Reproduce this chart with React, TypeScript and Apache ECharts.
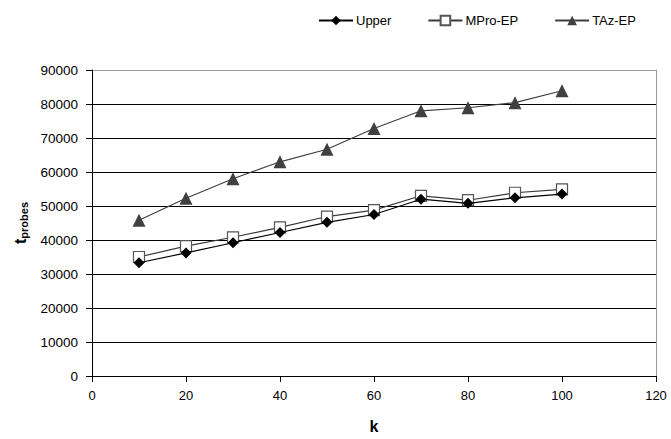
import React, { useEffect, useRef } from "react";
import * as echarts from "echarts";

const kValues = [10, 20, 30, 40, 50, 60, 70, 80, 90, 100];
const upper = [33300, 36200, 39200, 42200, 45200, 47500, 52000, 50800, 52400, 53500];
const mproEP = [35000, 38200, 40800, 43700, 46900, 48800, 53000, 51700, 53900, 54900];
const tazEP = [45800, 52300, 58000, 63000, 66700, 72800, 78000, 78900, 80400, 83900];
const seriesNames = ["Upper", "MPro-EP", "TAz-EP"];

const FONT = "'Liberation Sans', Arial, sans-serif";

export default function App() {
  const ref = useRef<HTMLDivElement>(null);
  useEffect(() => {
    const chart = echarts.init(ref.current!, null, { renderer: "svg" });
    const pairs = (vals: number[]) => kValues.map((k, i) => [k, vals[i]]);
    const splitColors = ["#000", "#000", "#000", "#000", "#000", "#000", "#000", "#000", "#000", "#999"];
    chart.setOption({
      animation: false,
      backgroundColor: "#fff",
      textStyle: { fontFamily: FONT },
      legend: {
        top: 9,
        left: 313,
        itemGap: 36,
        itemWidth: 34,
        itemHeight: 12,
        textStyle: { fontFamily: FONT, fontSize: 13, color: "#000", padding: [0, 0, 0, -2] },
        data: seriesNames,
      },
      grid: { left: 92, right: 15, top: 70, bottom: 61, containLabel: false },
      xAxis: {
        type: "value",
        min: 0,
        max: 120,
        interval: 20,
        name: "k",
        nameLocation: "middle",
        nameGap: 42,
        nameTextStyle: { fontFamily: FONT, fontSize: 16, fontWeight: "bold", color: "#000" },
        axisLine: { show: true, lineStyle: { color: "#000", width: 1 } },
        axisTick: { show: true, length: 6, lineStyle: { color: "#000" } },
        axisLabel: { fontFamily: FONT, fontSize: 13, color: "#000", margin: 13 },
        splitLine: { show: false },
      },
      yAxis: [
        {
          type: "value",
          min: 0,
          max: 90000,
          interval: 10000,
          name: "{t|t}{s|probes}",
          nameLocation: "middle",
          nameGap: 62,
          nameRotate: 90,
          nameTextStyle: {
            fontFamily: FONT,
            color: "#000",
            rich: {
              t: { fontFamily: FONT, fontSize: 16, fontWeight: "bold", color: "#000" },
              s: { fontFamily: FONT, fontSize: 11, fontWeight: "bold", color: "#000", verticalAlign: "bottom", padding: [7, 0, 0, 0] },
            },
          },
          axisLine: { show: true, lineStyle: { color: "#000", width: 1 } },
          axisTick: { show: true, length: 6, lineStyle: { color: "#000" } },
          axisLabel: {
            fontFamily: FONT,
            fontSize: 13.5,
            color: "#000",
            margin: 14,
            formatter: (v: number) => String(v),
          },
          splitLine: { show: true, lineStyle: { color: splitColors, width: 1 } },
        },
        {
          type: "value",
          position: "right",
          min: 0,
          max: 90000,
          interval: 10000,
          axisLine: { show: true, lineStyle: { color: "#999", width: 1 } },
          axisTick: { show: false },
          axisLabel: { show: false },
          splitLine: { show: false },
        },
      ],
      series: [
        {
          name: seriesNames[0],
          type: "line",
          data: pairs(upper),
          symbol: "diamond",
          symbolSize: 11,
          lineStyle: { color: "#000", width: 1.2 },
          itemStyle: { color: "#000" },
          z: 4,
        },
        {
          name: seriesNames[1],
          type: "line",
          data: pairs(mproEP),
          symbol: "rect",
          symbolSize: 11,
          showAllSymbol: true,
          lineStyle: { color: "#3a3a3a", width: 1.2 },
          itemStyle: { color: "#fff", borderColor: "#555", borderWidth: 1.2 },
          z: 3,
        },
        {
          name: seriesNames[2],
          type: "line",
          data: pairs(tazEP),
          symbol: "triangle",
          symbolSize: 13,
          lineStyle: { color: "#404040", width: 1.2 },
          itemStyle: { color: "#404040" },
          z: 2,
        },
      ],
    });
    return () => chart.dispose();
  }, []);
  return <div ref={ref} style={{ width: 671, height: 439, position: "absolute", left: 0, top: 0 }} />;
}
